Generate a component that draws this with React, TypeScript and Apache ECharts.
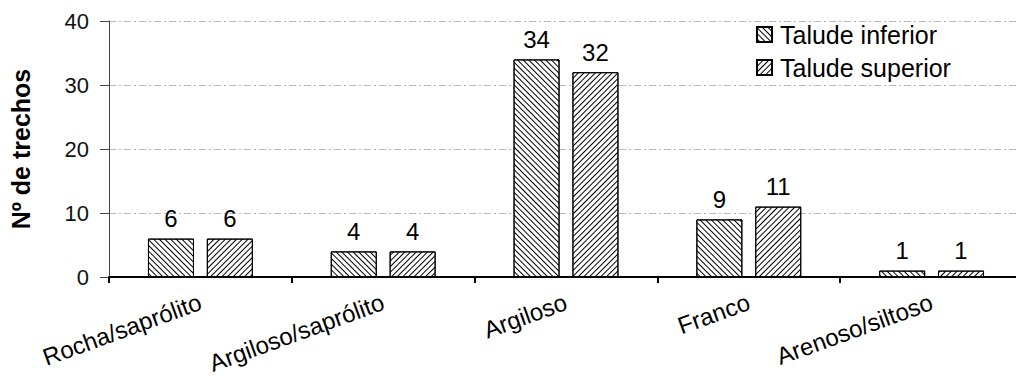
import React, { useEffect, useRef } from "react";
import * as echarts from "echarts";

const categories = ["Rocha/saprólito", "Argiloso/saprólito", "Argiloso", "Franco", "Arenoso/siltoso"];
const taludeInferior = [6, 4, 34, 9, 1];
const taludeSuperior = [6, 4, 32, 11, 1];
const seriesNames = ["Talude inferior", "Talude superior"];

const FONT = "'Liberation Sans', Arial, sans-serif";

export default function App() {
  const ref = useRef<HTMLDivElement>(null);
  useEffect(() => {
    if (!ref.current) return;
    const chart = echarts.init(ref.current, undefined, { renderer: "svg" });
    const mkDecal = (rot: number) => ({
      symbol: "rect",
      symbolSize: 1,
      color: "#000",
      backgroundColor: "#fff",
      dashArrayX: [1, 0],
      dashArrayY: [1, 3],
      rotation: rot,
    });
    const labelCfg = {
      show: true,
      position: "top" as const,
      distance: 8,
      color: "#000",
      fontSize: 24,
      fontFamily: FONT,
    };
    chart.setOption({
      animation: false,
      backgroundColor: "#fff",
      textStyle: { fontFamily: FONT },
      grid: { left: 109, top: 21, right: 7, bottom: 99, containLabel: false, outerBoundsMode: "none" },
      legend: {
        orient: "vertical",
        left: 756,
        top: 22,
        padding: 0,
        itemWidth: 15,
        itemHeight: 15,
        itemGap: 8,
        icon: "rect",
        data: seriesNames,
        textStyle: { fontSize: 25, color: "#000", fontFamily: FONT, padding: [0, 0, 0, 3] },
      },
      xAxis: {
        type: "category",
        data: categories,
        boundaryGap: true,
        axisLine: { show: true, lineStyle: { color: "#000", width: 2 } },
        axisTick: { show: true, length: 6, lineStyle: { color: "#000", width: 2 } },
        axisLabel: { rotate: 20, margin: 24, fontSize: 24, color: "#000", fontFamily: FONT, interval: 0 },
        splitLine: { show: false },
      },
      yAxis: {
        type: "value",
        min: 0,
        max: 40,
        interval: 10,
        name: "Nº de trechos",
        nameLocation: "middle",
        nameGap: 76,
        nameTextStyle: { fontSize: 25, fontWeight: "bold", color: "#000", fontFamily: FONT },
        axisLine: { show: true, lineStyle: { color: "#444", width: 1 } },
        axisTick: { show: true, length: 9, lineStyle: { color: "#444", width: 1 } },
        axisLabel: { margin: 20, fontSize: 22, color: "#111", fontFamily: FONT },
        splitLine: { show: true, lineStyle: { color: "#bbb", width: 1, type: [7, 3, 2, 3] } },
      },
      series: [
        {
          name: seriesNames[0],
          type: "bar",
          data: taludeInferior,
          barWidth: 46,
          barGap: "28%",
          itemStyle: { color: "#fff", borderColor: "#000", borderWidth: 1, decal: mkDecal(Math.PI / 4) },
          label: labelCfg,
        },
        {
          name: seriesNames[1],
          type: "bar",
          data: taludeSuperior,
          barWidth: 46,
          barGap: "28%",
          itemStyle: { color: "#fff", borderColor: "#000", borderWidth: 1, decal: mkDecal(-Math.PI / 4) },
          label: labelCfg,
        },
      ],
    });
    return () => chart.dispose();
  }, []);
  return (
    <div style={{ position: "fixed", left: 0, top: 0, width: 1016, height: 376, overflow: "hidden", background: "#fff" }}>
      <div ref={ref} style={{ width: 1030, height: 376 }} />
    </div>
  );
}
